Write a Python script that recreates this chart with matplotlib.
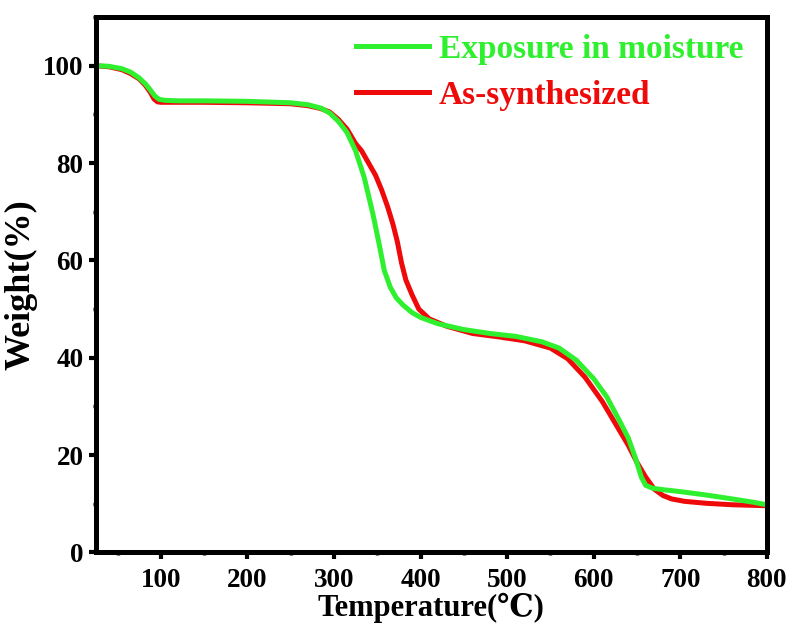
import matplotlib.pyplot as plt
from matplotlib.ticker import MultipleLocator

# TGA curves
temp_moist = [25, 40, 55, 65, 75, 82, 88, 93, 98, 105, 120, 150, 200, 250, 270, 285, 295, 305,
              315, 325, 335, 345, 352, 358, 365, 372, 380, 390, 400, 420, 450, 480, 510, 540,
              560, 580, 600, 615, 630, 640, 648, 655, 660, 668, 680, 700, 730, 760, 785, 800]
weight_moist = [100, 99.9, 99.4, 98.7, 97.5, 96.3, 95, 93.8, 93.1, 92.9, 92.8, 92.8, 92.7, 92.4,
                92, 91.3, 90.3, 88.6, 86.3, 82.5, 77, 69.5, 63.5, 58, 54.5, 52.3, 50.8, 49.3,
                48.3, 47, 45.8, 45, 44.4, 43.3, 42, 39.5, 35.7, 32, 27, 23.5, 19.5, 15.5, 13.8,
                13.2, 12.9, 12.5, 11.8, 11, 10.3, 9.8]

temp_syn = [25, 40, 55, 65, 75, 82, 88, 92, 96, 100, 110, 150, 200, 250, 270, 285, 295, 305, 315,
            325, 332, 340, 348, 355, 362, 368, 373, 378, 383, 390, 398, 410, 430, 460, 490, 520,
            550, 570, 590, 610, 625, 640, 650, 660, 670, 680, 690, 705, 730, 760, 800]
weight_syn = [100, 99.8, 99.2, 98.4, 97.3, 96, 94.5, 93.2, 92.6, 92.5, 92.5, 92.5, 92.4, 92.2,
              91.8, 91.2, 90.5, 89, 87, 84, 82.5, 80, 77.5, 74.5, 71, 67.5, 64, 59.5, 56, 53, 50,
              48, 46.5, 45, 44.3, 43.5, 42, 39.8, 36, 31, 26.5, 22, 18.5, 15.5, 13, 11.7, 11, 10.5,
              10.1, 9.8, 9.6]

plt.rcParams['font.family'] = ['Liberation Serif', 'DejaVu Serif']
plt.rcParams['font.weight'] = 'bold'

fig = plt.figure(figsize=(7.93, 6.35), dpi=100)
ax = fig.add_axes([0.121, 0.13, 0.846, 0.843])

ax.plot(temp_syn, weight_syn, color='#ee0a0a', lw=3.6, label='As-synthesized')
ax.plot(temp_moist, weight_moist, color='#2ff02f', lw=3.6, label='Exposure in moisture')

ax.set_xlim(25, 800)
ax.set_ylim(0, 110)
ax.xaxis.set_major_locator(MultipleLocator(100))
ax.xaxis.set_minor_locator(MultipleLocator(50))
ax.yaxis.set_major_locator(MultipleLocator(20))
ax.yaxis.set_minor_locator(MultipleLocator(10))
ax.tick_params(which='major', direction='out', length=5, width=3, labelsize=19.5, pad=6)
ax.tick_params(which='minor', direction='out', length=2.5, width=2.5)
ax.tick_params(axis='y', which='major', pad=4)
for s in ax.spines.values():
    s.set_linewidth(3.6)

ax.set_xlabel('Temperature(℃)', fontsize=22, fontweight='bold', labelpad=0)
ax.set_ylabel('Weight(%)', fontsize=26, fontweight='bold', labelpad=4)

h, l = ax.get_legend_handles_labels()
leg = ax.legend(h[::-1], l[::-1], loc='upper right', bbox_to_anchor=(1.01, 1.025), frameon=False,
                handlelength=2.2, handletextpad=0.3, labelspacing=0.45,
                prop={'size': 24, 'weight': 'bold'}, labelcolor='linecolor')

fig.savefig('out.png', dpi=100)
